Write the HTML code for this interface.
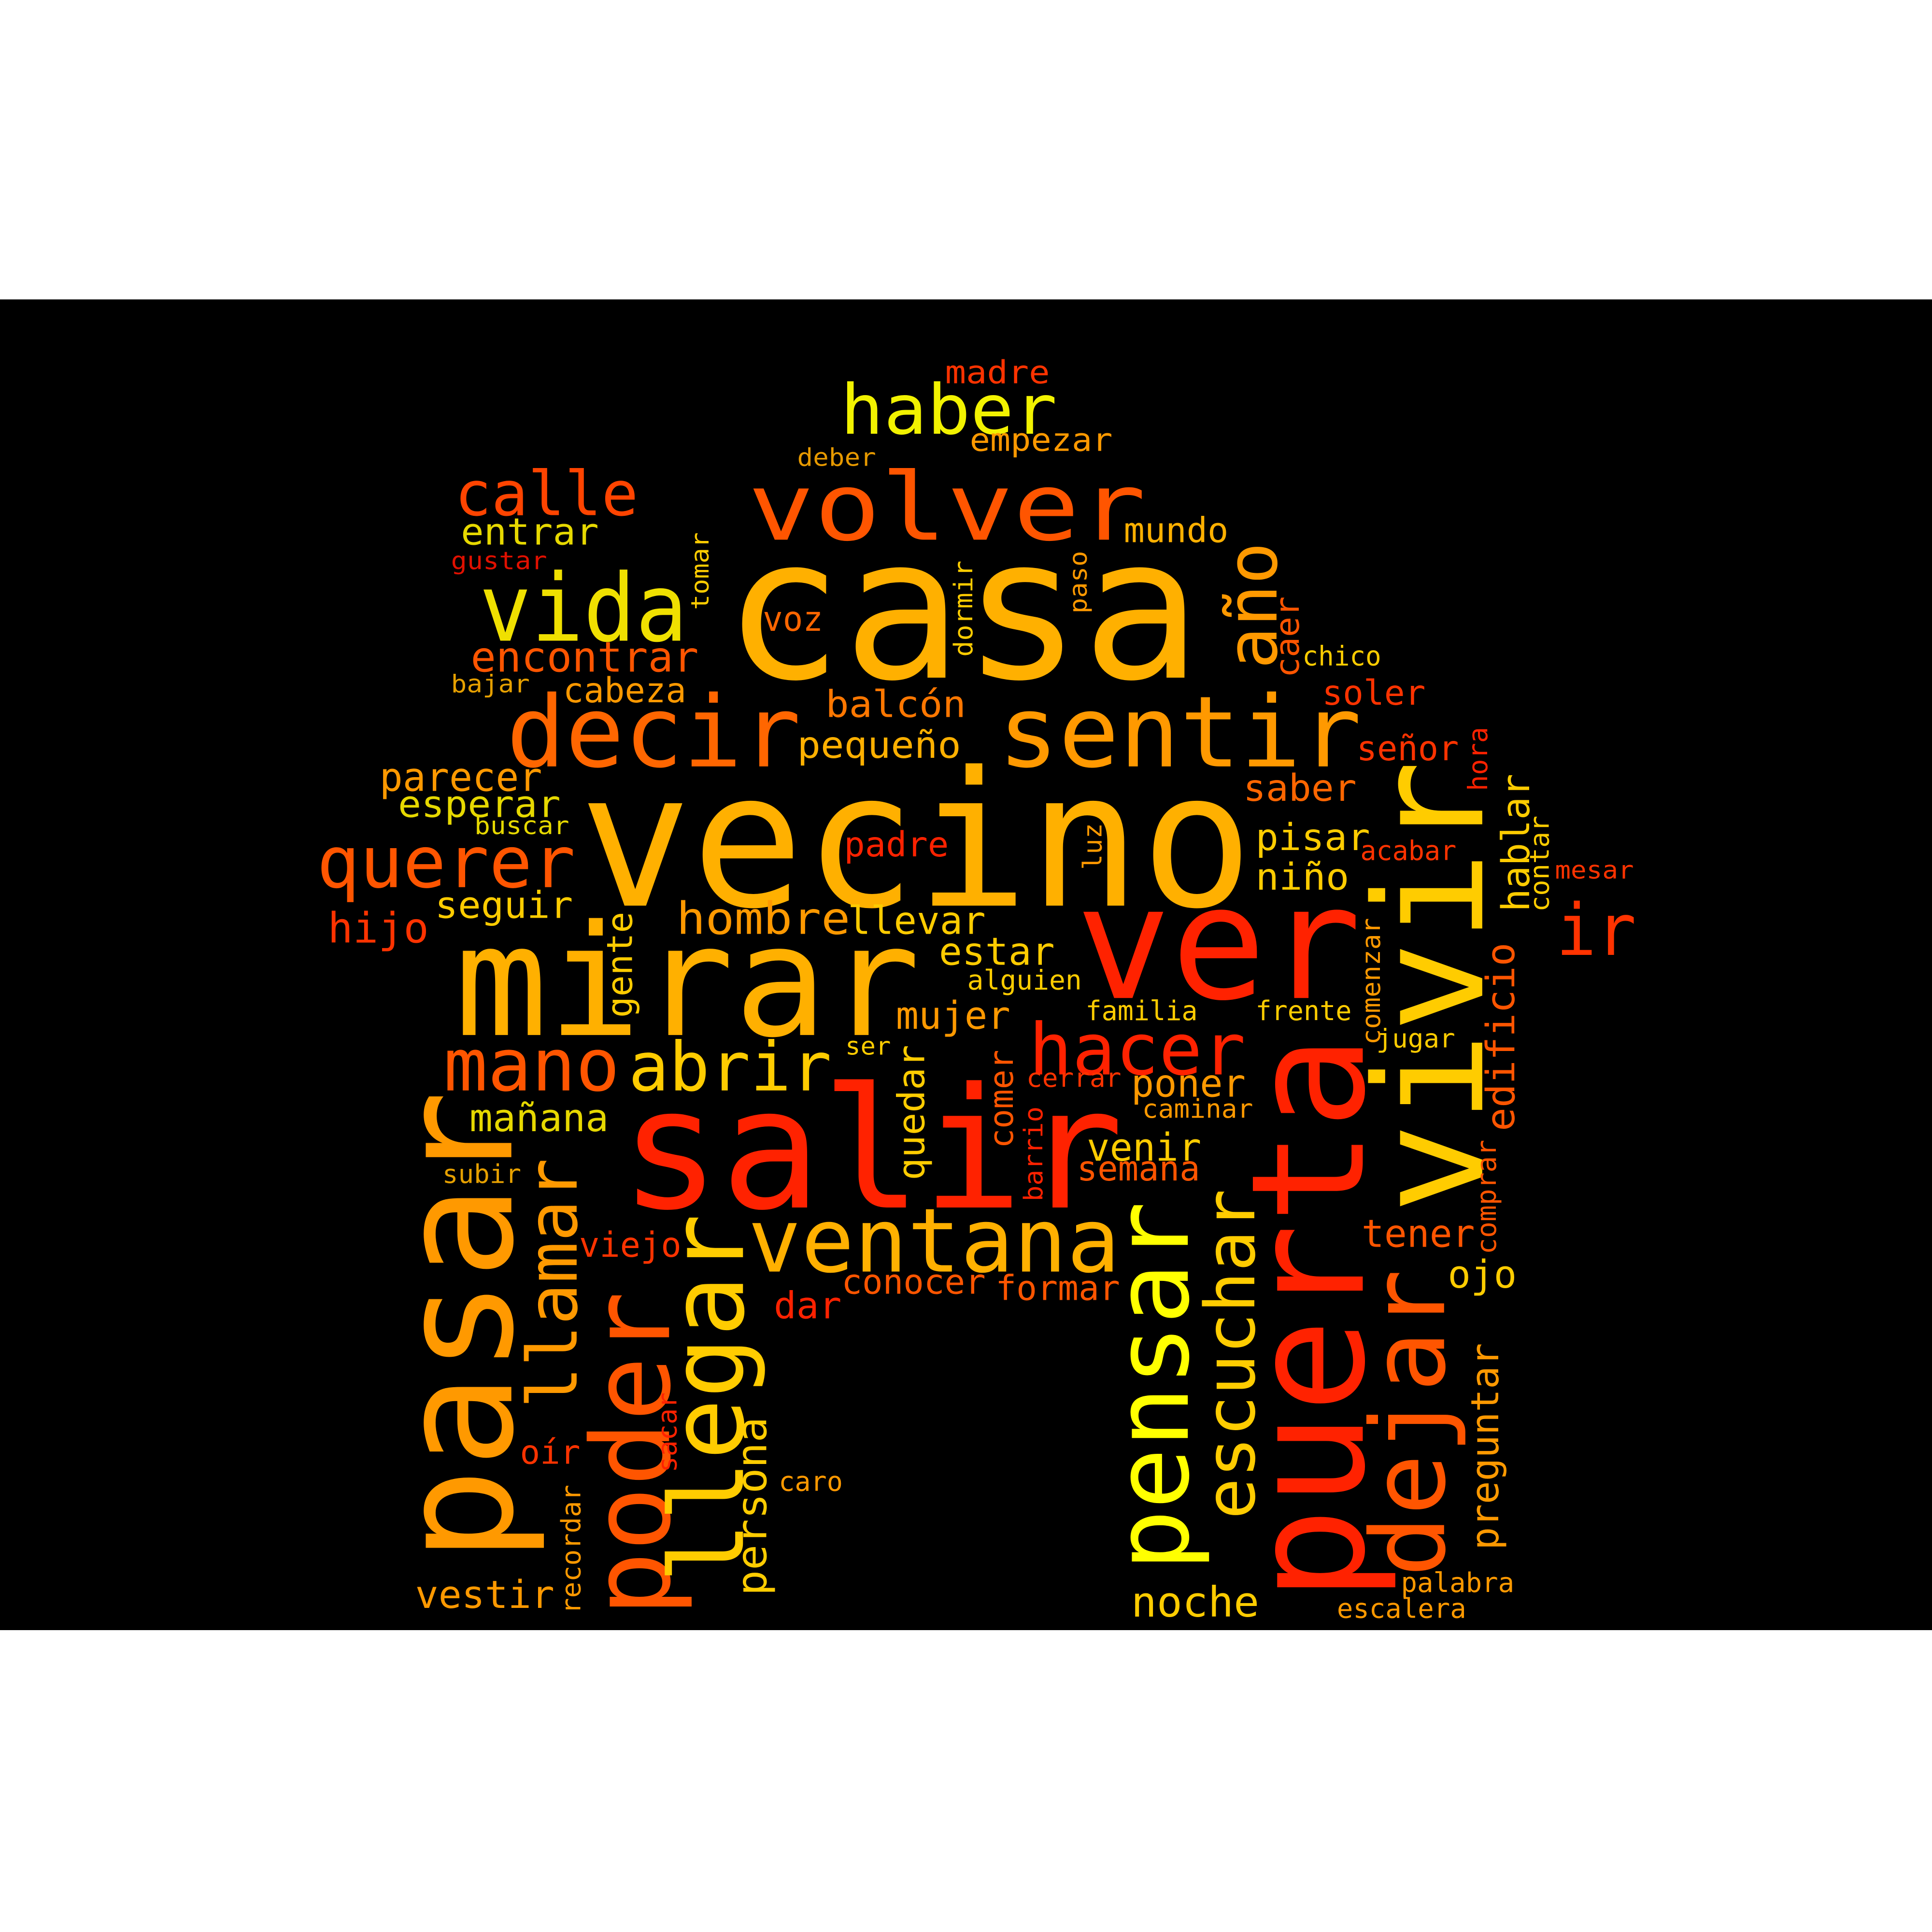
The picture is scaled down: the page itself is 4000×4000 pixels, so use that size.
<!DOCTYPE html>
<html><head><meta charset="utf-8"><style>
html,body{margin:0;padding:0;background:#fff;}
svg{display:block;}
</style></head><body>
<svg id="cloud" width="4000" height="4000" viewBox="0 0 1568 1568" xmlns="http://www.w3.org/2000/svg">
<rect x="0" y="0" width="1568" height="1568" fill="#ffffff"/>
<rect x="0" y="243" width="1568" height="1080" fill="#000000"/>
<g id="words" font-family="'DejaVu Sans Mono','Liberation Mono',monospace"></g>
</svg>
<script>
// horizontal words: text, left x, baseline y, font size, extent, color
const hWords = ["madre","haber","empezar","deber","volver","calle","entrar","gustar","mundo","casa","vida","voz","encontrar","bajar","cabeza","chico","soler","balcón","decir","sentir","pequeño","señor","parecer","saber","esperar","buscar","vecino","padre","pisar","acabar","mesar","querer","niño","ir","hijo","seguir","hombre","llevar","mirar","ver","estar","alguien","mujer","familia","frente","jugar","ser","hacer","mano","abrir","cerrar","poner","caminar","mañana","salir","venir","semana","subir","tener","viejo","ventana","ojo","conocer","formar","dar","oír","caro","vestir","noche","palabra","escalera"];
const hX = [767,682,787,647,607,369,374,366,912,587,389,619,382,366,457,1057,1073,670,411,810,647,1101,308,1009,323,385,470,685,1019,1104,1262,257,1019,1263,266,353,549,688,369,873,762,785,727,881,1019,1117,686,835,360,510,833,918,927,381,503,882,874,359,1105,470,607,1175,683,808,628,422,632,337,918,1137,1085];
const hY = [311,352,366,378,438,418,442,462,440,550,520,512,545,562,570,540,572,582,622,622,615,617,642,650,663,677,735,695,690,698,713,720,722,775,765,745,758,758,840,810,783,803,835,828,828,850,856,872,885,885,882,890,907,918,980,942,958,960,1012,1020,1032,1045,1050,1055,1070,1188,1210,1305,1312,1292,1313];
const hSize = [26,56,26,20,76,50,30,20,28,160,76,28,34,20,28,22,28,30,80,80,30,28,32,30,30,20,152,28,30,22,20,58,30,58,34,30,36,31,125,128,31,22,31,22,22,21,20,58,59,55,21,31,21,31,136,31,28,21,31,28,72,31,28,28,30,27,22,31,34,22,22];
const hLen = [85,176,116,64,323,149,112,78,85,388,169,49,185,64,100,64,84,114,239,295,133,83,132,92,132,77,547,85,93,78,64,210,76,65,82,112,141,112,378,232,94,93,93,91,78,64,37,176,143,165,77,93,90,113,409,93,100,64,92,83,302,56,117,101,55,49,52,113,104,92,105];
const hColor = ["#ff3300","#f2f200","#ff9900","#e69900","#ff5500","#ff4400","#e6d800","#e01000","#ffb000","#ffb000","#f0e000","#ff6600","#ff5500","#e6a000","#ff9900","#ffcc00","#ff3300","#ff7700","#ff6600","#ff9900","#ffb000","#ff3300","#ff9900","#ff6600","#e6d800","#e6d800","#ffb000","#ff2200","#ffcc00","#ff3300","#ff3300","#ff5500","#ffcc00","#ff3300","#ff3300","#ffcc00","#ff9900","#ffcc00","#ffb000","#ff2200","#ffcc00","#ffcc00","#ff9900","#ffcc00","#ffcc00","#ffcc00","#ffcc00","#ff2200","#ff5500","#ffcc00","#ff3300","#ff9900","#ff9900","#e6d800","#ff2200","#ffcc00","#ff5500","#e6a000","#ff5500","#ff3300","#ffb000","#ffcc00","#ff5500","#ff5500","#ff2200","#ff3300","#ff9900","#ff9900","#ffcc00","#ff9900","#ff9900"];

// vertical words (read bottom to top): text, baseline x, bottom y, top y, font size, color
const vWords = ["tomar","dormir","paso","año","caer","hora","hablar","contar","vivir","luz","gente","comenzar","edificio","puerta","dejar","pensar","escuchar","quedar","comer","barrio","comprar","preguntar","pasar","llamar","poder","llegar","persona","sacar","recordar"];
const vX = [575,789,882,1036,1054,1207,1241,1257,1203,894,513,1120,1229,1106,1172,964,1018,750,822,846,1214,1216,415,468,543,603,622,549,471];
const vBottom = [495,533,498,543,550,642,740,740,985,706,826,848,918,1300,1280,1275,1233,958,932,975,1018,1258,1268,1143,1312,1285,1295,1195,1310];
const vTop = [432,455,447,440,484,590,628,662,617,668,740,745,765,840,1030,975,965,848,852,898,925,1090,885,940,1048,985,1150,1130,1205];
const vSize = [20,21,20,57,27,21.6,31,21.6,122,21,28.6,21,31.7,127,83,83,56,30,27,21,22,31,127,56,88,83,34,21.6,21.8];
const vColor = ["#ffcc00","#ffcc00","#ff9900","#ff9900","#ff5500","#ff2200","#ffcc00","#ffcc00","#ffcc00","#ff9900","#ffcc00","#ff9900","#ff5500","#ff2200","#ff5500","#ffff00","#ffcc00","#ffcc00","#ff5500","#ff2200","#ff5500","#ff9900","#ff9900","#ff9900","#ff5500","#ffcc00","#ffcc00","#ff2200","#ff9900"];

const NS = "http://www.w3.org/2000/svg";
const g = document.getElementById("words");
for (let i = 0; i < hWords.length; i++) {
  const t = document.createElementNS(NS, "text");
  
  
  t.setAttribute("x", hX[i]);
  t.setAttribute("y", hY[i]);
  t.setAttribute("font-size", hSize[i]);
  t.setAttribute("fill", hColor[i]);
  t.setAttribute("textLength", hLen[i]);
  t.setAttribute("lengthAdjust", "spacingAndGlyphs");
  t.textContent = hWords[i];
  g.appendChild(t);
}
for (let i = 0; i < vWords.length; i++) {
  const t = document.createElementNS(NS, "text");
  
  
  t.setAttribute("x", 0);
  t.setAttribute("y", 0);
  t.setAttribute("transform", "translate(" + vX[i] + "," + vBottom[i] + ") rotate(-90)");
  t.setAttribute("font-size", vSize[i]);
  t.setAttribute("fill", vColor[i]);
  t.setAttribute("textLength", vBottom[i] - vTop[i]);
  t.setAttribute("lengthAdjust", "spacingAndGlyphs");
  t.textContent = vWords[i];
  g.appendChild(t);
}
</script>
</body></html>
